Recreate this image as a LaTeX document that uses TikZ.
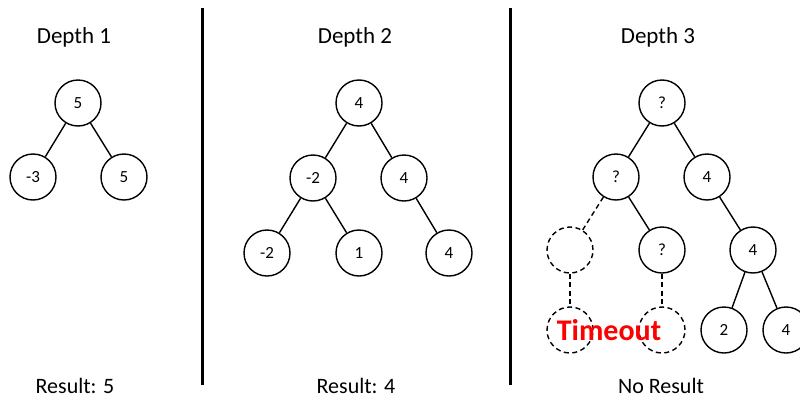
\documentclass[tikz,border=0pt]{standalone}
\usepackage{fontspec}
\setmainfont{Carlito}
\begin{document}
\begin{tikzpicture}[x=1pt,y=-1pt,
  tn/.style={circle,draw,line width=1.4pt,minimum size=46pt,inner sep=0pt,font=\fontsize{17}{20}\selectfont},
  ghost/.style={tn,dash pattern=on 5pt off 3.5pt},
  edge/.style={line width=1.4pt},
  gedge/.style={edge,dash pattern=on 5pt off 3.5pt},
  sep/.style={line width=3pt},
  title/.style={font=\fontsize{23}{27}\selectfont},
  lbl/.style={font=\fontsize{22}{26}\selectfont}]
\useasboundingbox (0,0) rectangle (800,399);
\begin{scope}
\clip (0,0) rectangle (800,399);

% separators
\coordinate (s1t) at (202,8); \coordinate (s1b) at (202,385);
\coordinate (s2t) at (510,8); \coordinate (s2b) at (510,385);
\draw[sep] (s1t) -- (s1b);
\draw[sep] (s2t) -- (s2b);

% depth 1
\node[title] (t1) at (74,37) {Depth 1};
\node[tn] (a) at (78,103) {5};
\node[tn] (al) at (33,177) {-3};
\node[tn] (ar) at (124,177) {5};
\draw[edge] (a) -- (al);
\draw[edge] (a) -- (ar);
\node[lbl] (r1) at (75,386) {Result: 5};

% depth 2
\node[title] (t2) at (355,37) {Depth 2};
\node[tn] (b) at (359,103) {4};
\node[tn] (bl) at (313,178) {-2};
\node[tn] (br) at (404,178) {4};
\node[tn] (bll) at (267,253) {-2};
\node[tn] (blr) at (359,253) {1};
\node[tn] (brr) at (449,253) {4};
\draw[edge] (b) -- (bl);
\draw[edge] (b) -- (br);
\draw[edge] (bl) -- (bll);
\draw[edge] (bl) -- (blr);
\draw[edge] (br) -- (brr);
\node[lbl] (r2) at (356,386) {Result: 4};

% depth 3
\node[title] (t3) at (658,37) {Depth 3};
\node[tn] (c) at (662,103) {?};
\node[tn] (cl) at (616,177) {?};
\node[tn] (cr) at (707,177) {4};
\node[ghost] (cll) at (570,250) {};
\node[tn] (clr) at (662,250) {?};
\node[tn] (crr) at (753,250) {4};
\node[ghost] (clll) at (570,330) {};
\node[ghost] (clrl) at (662,330) {};
\node[tn] (crrl) at (724,330) {2};
\node[tn] (crrr) at (786,330) {4};
\draw[edge] (c) -- (cl);
\draw[edge] (c) -- (cr);
\draw[gedge] (cl) -- (cll);
\draw[edge] (cl) -- (clr);
\draw[edge] (cr) -- (crr);
\draw[gedge] (cll) -- (clll);
\draw[gedge] (clr) -- (clrl);
\draw[edge] (crr) -- (crrl);
\draw[edge] (crr) -- (crrr);
\node[text=red,font=\fontsize{30}{34}\selectfont\bfseries] (to) at (609,330) {Timeout};
\node[lbl] (r3) at (661,386) {No Result};
\end{scope}
\end{tikzpicture}
\end{document}
